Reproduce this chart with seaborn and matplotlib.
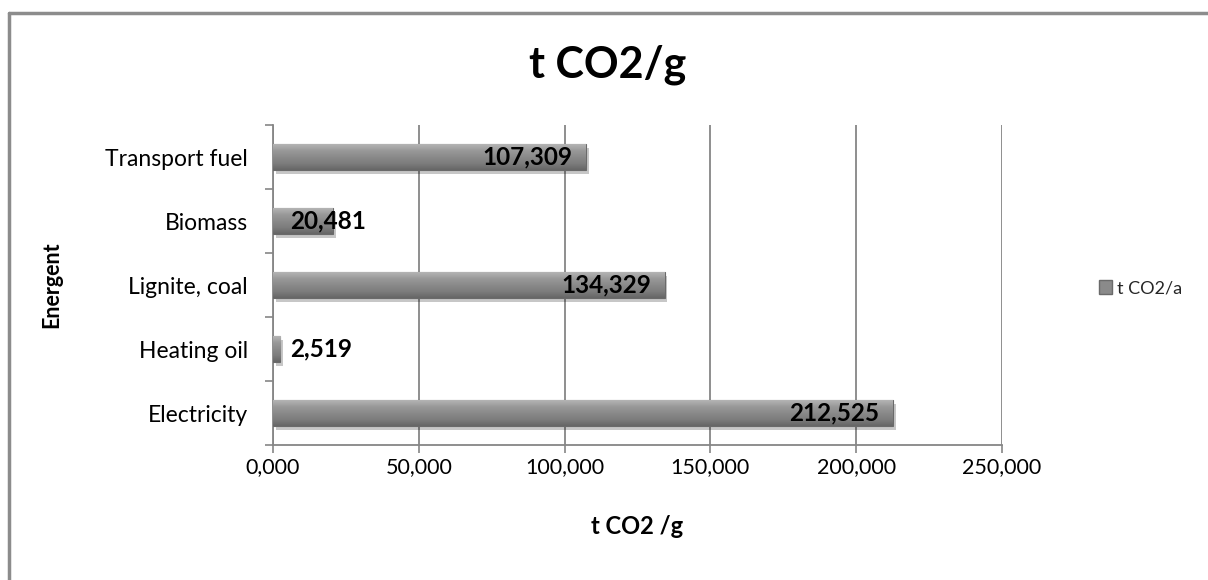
import numpy as np
import pandas as pd
import matplotlib
matplotlib.use("Agg")
import matplotlib.pyplot as plt
import matplotlib.patheffects as pe
from matplotlib.lines import Line2D
from matplotlib.patches import Patch
import seaborn as sns

# Emissions per energy carrier (tonnes, decimal comma in the labels)
categories = ["Transport fuel", "Biomass", "Lignite, coal", "Heating oil", "Electricity"]
emissions = [107.309, 20.481, 134.329, 2.519, 212.525]
series_name = "t CO2/a"
x_ticks = [0, 50, 100, 150, 200, 250]

title = "t CO2/g"
x_label = "t CO2 /g"
y_label = "Energent"

df = pd.DataFrame({"Energent": categories, "value": emissions, "series": series_name})

sns.set_theme(style="white")
plt.rcParams["font.family"] = ["Lato", "DejaVu Sans"]

W, H = 1208, 580
fig = plt.figure(figsize=(W / 100, H / 100), dpi=100)
ax = fig.add_axes([273 / W, 1 - 445 / H, (1002 - 273) / W, (445 - 125) / H])

grid_c = "#868686"
sns.barplot(data=df, y="Energent", x="value", hue="series", order=categories,
            orient="h", width=0.4, palette=["#8a8a8a"], ax=ax, legend=False,
            edgecolor="#6a6a6a", linewidth=0.8, zorder=3)

# bevelled look: vertical gradient clipped to each bar, plus a soft drop shadow
grad = np.linspace(0, 1, 64).reshape(-1, 1)
cmap = matplotlib.colors.LinearSegmentedColormap.from_list(
    "bevel", ["#b4b4b4", "#999999", "#8a8a8a", "#7d7d7d", "#666666"])
for bar in ax.patches:
    bar.set_path_effects([pe.SimplePatchShadow(offset=(2, -3), shadow_rgbFace="#000000",
                                               alpha=0.22), pe.Normal()])
    x0, y0 = bar.get_x(), bar.get_y()
    w, h = bar.get_width(), bar.get_height()
    im = ax.imshow(grad, cmap=cmap, aspect="auto", extent=(x0, x0 + w, y0 + h, y0),
                   zorder=3.5, interpolation="bicubic")
    im.set_clip_path(bar)

ax.set_xlim(0, 250)
ax.set_ylim(len(categories) - 0.5, -0.5)
ax.set_xticks(x_ticks)
ax.set_xticklabels([f"{v:.3f}".replace(".", ",") for v in x_ticks])
ax.set_yticks(range(len(categories)))
ax.set_yticklabels(categories)
ax.set_yticks(np.arange(-0.5, len(categories), 1.0), minor=True)

ax.tick_params(axis="x", which="major", direction="out", length=6, width=1.2,
               color=grid_c, labelsize=15.5, pad=3, bottom=True)
ax.tick_params(axis="y", which="major", length=0, labelsize=16.5, pad=18)
ax.tick_params(axis="y", which="minor", direction="out", length=6, width=1.2,
               color=grid_c, left=True)
for lab in ax.get_xticklabels() + ax.get_yticklabels():
    lab.set_color("#000000")

ax.grid(axis="x", color=grid_c, linewidth=1.3, zorder=0)
ax.grid(axis="y", visible=False)
for side in ["top", "right"]:
    ax.spines[side].set_visible(False)
for side in ["left", "bottom"]:
    ax.spines[side].set_color(grid_c)
    ax.spines[side].set_linewidth(1.3)

ax.set_xlabel(x_label, fontsize=17, fontweight="bold", color="black")
ax.set_ylabel(y_label, fontsize=15.5, fontweight="bold", color="black")
ax.xaxis.set_label_coords(0.5, -(515 - 445) / (445 - 125))
ax.yaxis.set_label_coords((62 - 273) / (1002 - 273), 0.5)

# value labels: inside the bar end, or just right of the axis when the bar is short
for i, v in enumerate(emissions):
    txt = f"{v:.3f}".replace(".", ",")
    if v > 40:
        ax.annotate(txt, (v, i), xytext=(-10, 0), textcoords="offset points",
                    ha="right", va="center", fontsize=17.5, fontweight="bold",
                    color="black", zorder=5)
    else:
        ax.annotate(txt, (0, i), xytext=(12, 0), textcoords="offset points",
                    ha="left", va="center", fontsize=17.5, fontweight="bold",
                    color="black", zorder=5)

handles = [Patch(facecolor="#8a8a8a", edgecolor="#6a6a6a", label=series_name)]
ax.legend(handles=handles, loc="center left", bbox_to_anchor=(1.12, 0.49),
          frameon=False, fontsize=13, handlelength=0.75, handleheight=0.75,
          handletextpad=0.3, borderpad=0)

fig.text(608 / W, 1 - 65 / H, title, ha="center", va="center", fontsize=31,
         fontweight="bold", color="black")

# outer chart frame (left and top edges visible)
fig.add_artist(Line2D([9 / W, 9 / W], [0, 1 - 13 / H], color="#8c8c8c", lw=2.5,
                      transform=fig.transFigure))
fig.add_artist(Line2D([9 / W, 1], [1 - 13 / H, 1 - 13 / H], color="#8c8c8c", lw=2.5,
                      transform=fig.transFigure))

fig.savefig("out.png", dpi=100, facecolor="white")
